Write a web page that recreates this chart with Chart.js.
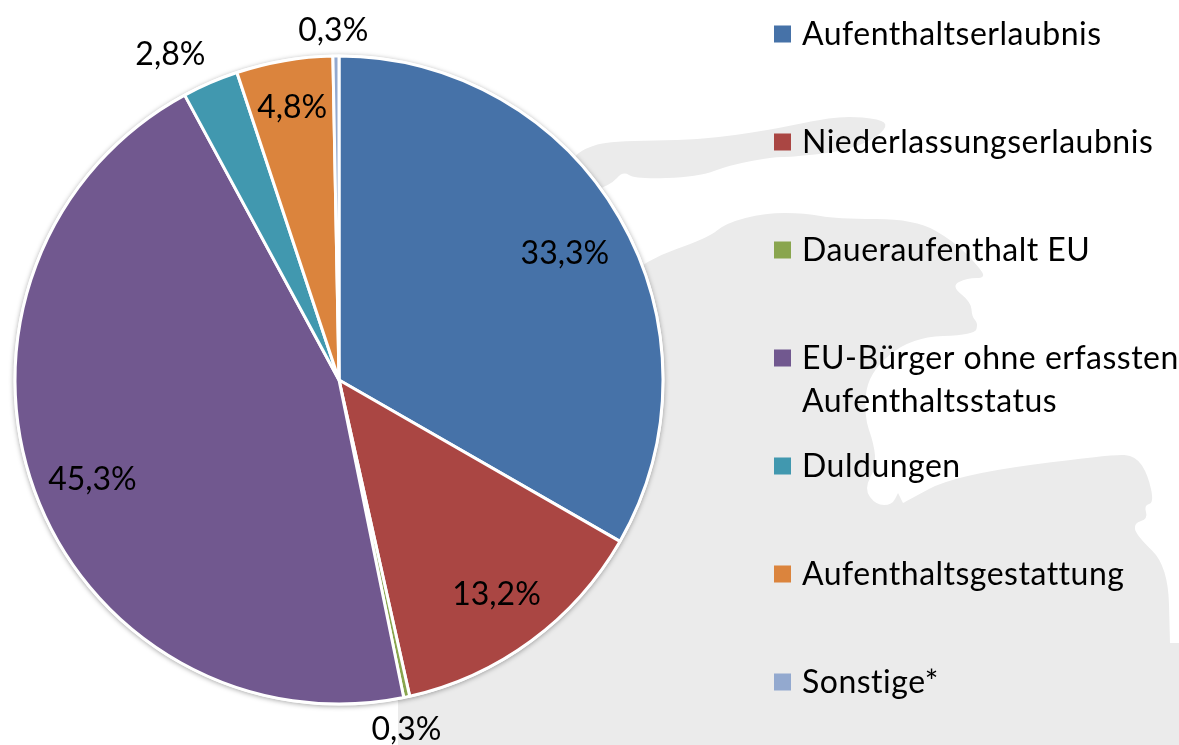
<!DOCTYPE html>
<html lang="de">
<head>
<meta charset="utf-8">
<title>Aufenthaltsstatus</title>
<script src="https://cdn.jsdelivr.net/npm/chart.js@4"></script>
<style>
  html, body { margin: 0; padding: 0; background: #fff; }
  #chart { display: block; }
</style>
</head>
<body>
<canvas id="chart" width="1179" height="745"></canvas>
<script>
const categories = [
  ["Aufenthaltserlaubnis"],
  ["Niederlassungserlaubnis"],
  ["Daueraufenthalt EU"],
  ["EU-Bürger ohne erfassten", "Aufenthaltsstatus"],
  ["Duldungen"],
  ["Aufenthaltsgestattung"],
  ["Sonstige*"],
];
const shares = [33.3, 13.2, 0.3, 45.3, 2.8, 4.8, 0.3];
const colors = ["#4672A8", "#AA4643", "#89A54E", "#71588F", "#4198AF", "#DB843D", "#93A9CF"];

const LABEL_FONT = '32px Lato, "Open Sans", sans-serif';
const LEGEND_FONT = '32px Lato, "Open Sans", sans-serif';

// label placement per slice: distance from centre (share of radius) and angle nudge in degrees
const labelRadius = [0.80, 0.82, 1.095, 0.82, 1.135, 0.855, 1.08];
const labelNudge = [0.7, 0, 1.1, -1.9, -3.9, 0, -0.4];

// grey coast behind the chart, only decoration (px, traced by eye)
const island = [[570, 160], [585, 148], [610, 141], [700, 140], [770, 130], [812, 121], [845, 116], [880, 119], [888, 126], [873, 140], [840, 152], [790, 157], [773, 157], [730, 165], [698, 177], [635, 179], [623, 171], [611, 185], [570, 200]];
const mainland = [[600, 300], [645, 260], [708, 238], [726, 223], [765, 213], [805, 213], [836, 219], [915, 219], [955, 242], [978, 266], [986, 278], [967, 278], [951, 286], [971, 302], [972, 317], [978, 323], [975, 335], [911, 337], [868, 373], [864, 416], [874, 444], [876, 467], [864, 489], [876, 505], [892, 505], [898, 493], [898, 493], [903, 503], [903, 503], [955, 475], [1113, 454], [1136, 456], [1148, 475], [1154, 503], [1144, 505], [1148, 519], [1134, 523], [1136, 535], [1168, 566], [1170, 643], [1170, 643], [1179, 643], [1179, 643], [1179, 745], [1179, 745], [398, 745], [398, 745], [398, 690], [398, 690], [500, 400]];

function fillCoast(ctx, pts) {
  ctx.beginPath();
  const n = pts.length;
  ctx.moveTo((pts[n - 1][0] + pts[0][0]) / 2, (pts[n - 1][1] + pts[0][1]) / 2);
  pts.forEach((p, i) => {
    const q = pts[(i + 1) % n];
    ctx.quadraticCurveTo(p[0], p[1], (p[0] + q[0]) / 2, (p[1] + q[1]) / 2);
  });
  ctx.closePath();
  ctx.fill();
}

const backdrop = {
  id: "backdrop",
  beforeDatasetsDraw(chart) {
    const ctx = chart.ctx;
    ctx.save();
    ctx.fillStyle = "#EBEBEB";
    fillCoast(ctx, island);
    fillCoast(ctx, mainland);

    // soft shadow under the whole pie
    const arc = chart.getDatasetMeta(0).data[0];
    ctx.shadowColor = "rgba(0,0,0,0.35)";
    ctx.shadowBlur = 5;
    ctx.shadowOffsetY = 1;
    ctx.fillStyle = "#fff";
    ctx.beginPath();
    ctx.arc(arc.x, arc.y, arc.outerRadius + 1.5, 0, Math.PI * 2);
    ctx.fill();
    ctx.restore();
  },
};

const sliceLabels = {
  id: "sliceLabels",
  afterDatasetsDraw(chart) {
    const ctx = chart.ctx;
    ctx.save();
    ctx.font = LABEL_FONT;
    ctx.fillStyle = "#000";
    ctx.textAlign = "center";
    ctx.textBaseline = "middle";
    chart.getDatasetMeta(0).data.forEach((arc, i) => {
      const mid = (arc.startAngle + arc.endAngle) / 2 + labelNudge[i] * Math.PI / 180;
      const r = arc.outerRadius * labelRadius[i];
      const text = shares[i].toFixed(1).replace(".", ",") + "%";
      ctx.fillText(text, arc.x + Math.cos(mid) * r, arc.y + Math.sin(mid) * r + 1);
    });
    ctx.restore();
  },
};

const sideLegend = {
  id: "sideLegend",
  afterDraw(chart) {
    const ctx = chart.ctx;
    ctx.save();
    ctx.font = LEGEND_FONT;
    ctx.letterSpacing = "0.5px";
    ctx.textBaseline = "middle";
    categories.forEach((lines, i) => {
      const y = 34 + 108 * i;
      ctx.fillStyle = colors[i];
      ctx.fillRect(774, y - 8.5, 17, 17);
      ctx.fillStyle = "#000";
      lines.forEach((line, k) => ctx.fillText(line, 802, y + 1 + 43 * k));
    });
    ctx.restore();
  },
};

new Chart(document.getElementById("chart"), {
  type: "pie",
  data: {
    labels: categories.map((c) => c.join(" ")),
    datasets: [{
      data: shares,
      backgroundColor: colors,
      borderColor: "#fff",
      borderWidth: 3,
      hoverOffset: 0,
    }],
  },
  options: {
    responsive: false,
    animation: false,
    layout: { padding: { left: 13.5, right: 514.5, top: 54.5, bottom: 39.5 } },
    plugins: {
      legend: { display: false },
      tooltip: { enabled: false },
    },
  },
  plugins: [backdrop, sliceLabels, sideLegend],
});
</script>
</body>
</html>
